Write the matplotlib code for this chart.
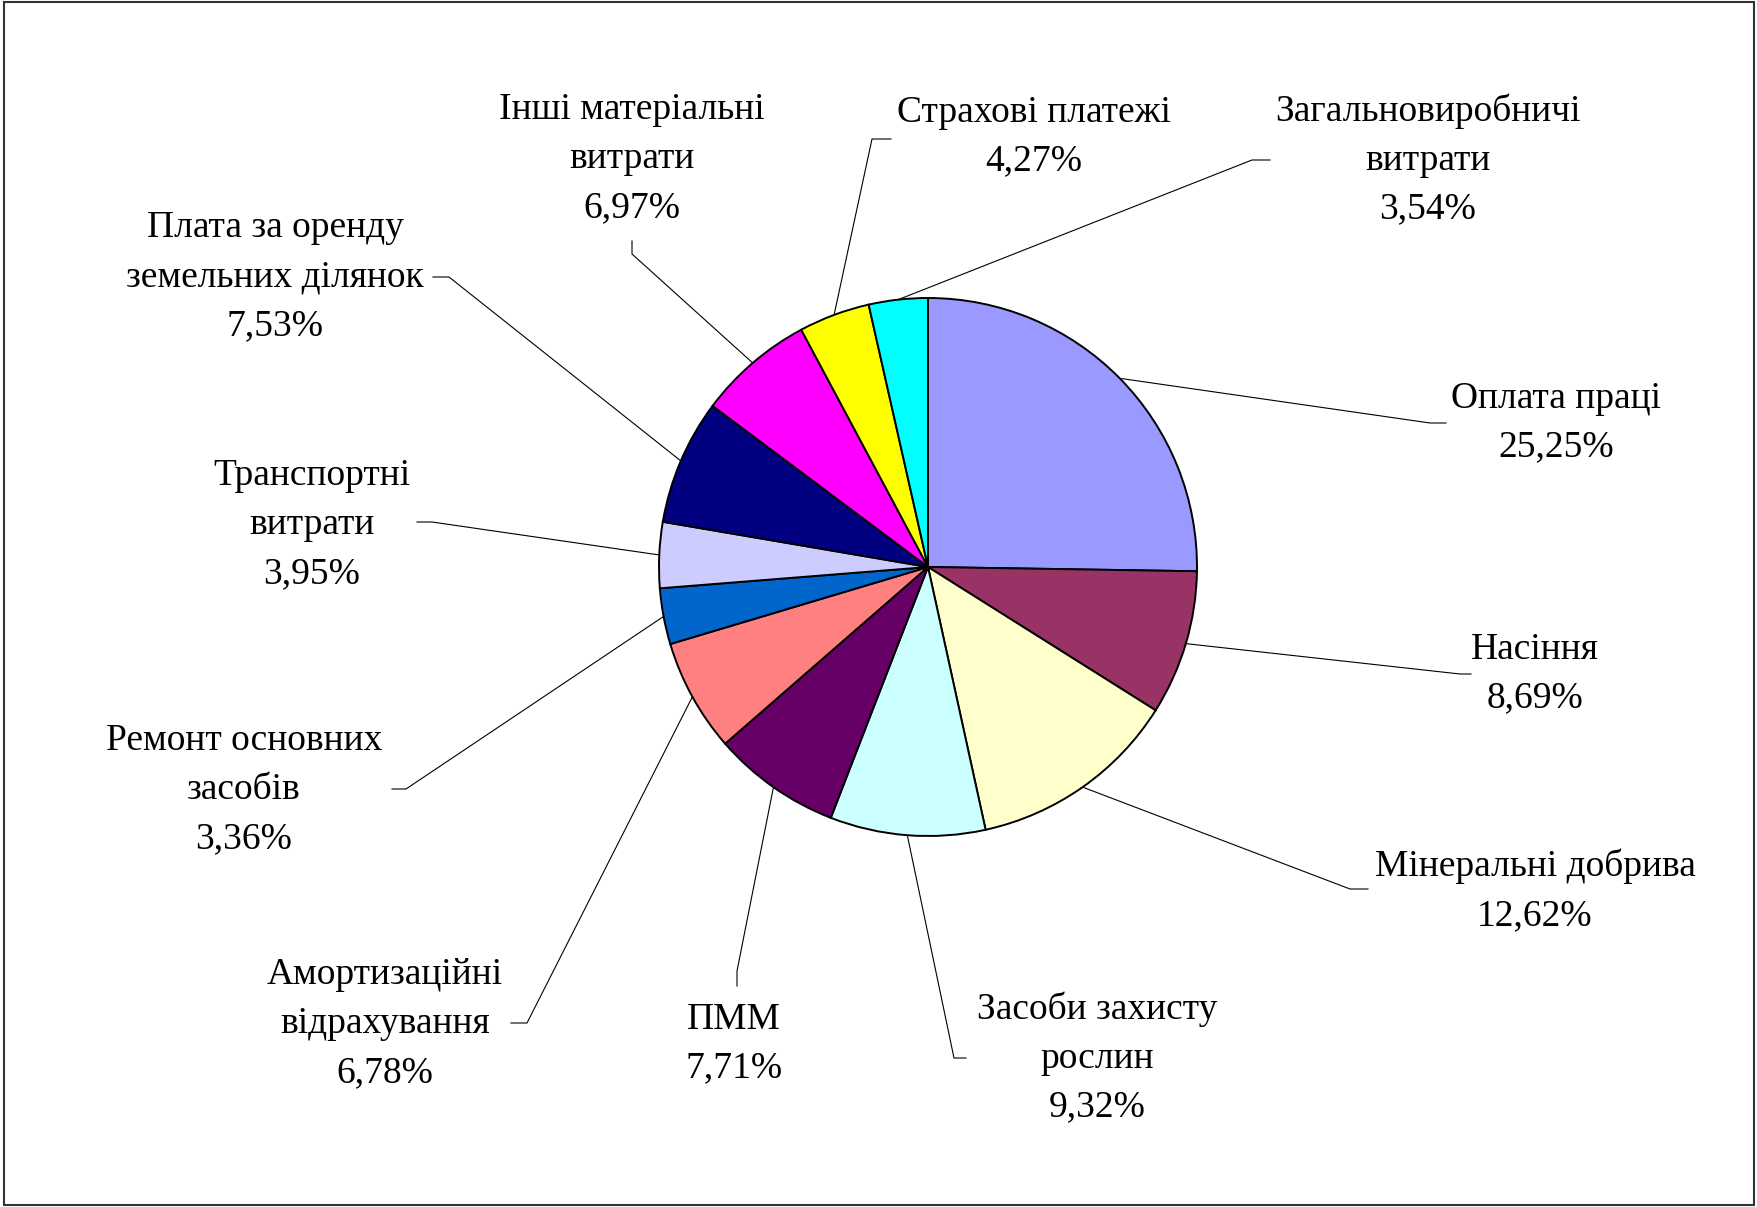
import matplotlib
matplotlib.use("Agg")
import matplotlib.pyplot as plt
from matplotlib.patches import Rectangle
import numpy as np

# ---- data ----
categories = [
    "Оплата праці",
    "Насіння",
    "Мінеральні добрива",
    "Засоби захисту\nрослин",
    "ПММ",
    "Амортизаційні\nвідрахування",
    "Ремонт основних\nзасобів",
    "Транспортні\nвитрати",
    "Плата за оренду\nземельних ділянок",
    "Інші матеріальні\nвитрати",
    "Страхові платежі",
    "Загальновиробничі\nвитрати",
]
values = [25.25, 8.69, 12.62, 9.32, 7.71, 6.78, 3.36, 3.95, 7.53, 6.97, 4.27, 3.54]

colors = ["#9999FF", "#993366", "#FFFFCC", "#CCFFFF", "#660066", "#FF8080",
          "#0066CC", "#CCCCFF", "#000080", "#FF00FF", "#FFFF00", "#00FFFF"]

# ---- layout (pixel coords, y downward) ----
W, H = 1758, 1207
center_px = (928, 567)
radius_px = 269
# text block centre
text_pos = [(1556, 423), (1535, 674), (1535, 891), (1097, 1058), (734, 1044),
            (385, 1024), (244, 790), (312, 525), (275, 277), (632, 159),
            (1034, 137), (1428, 160)]
# leader elbow and end points
elbow_pos = [(1430, 423), (1460, 674), (1350, 889), (954, 1058), (737, 971),
             (527, 1023), (406, 789), (432, 522), (449, 277), (632, 254),
             (872, 139), (1252, 160)]
end_pos = [(1446, 423), (1471, 674), (1368, 889), (966, 1058), (737, 986),
           (511, 1023), (392, 789), (417, 522), (433, 277), (632, 241),
           (891, 139), (1270, 160)]

plt.rcParams['font.family'] = ['Liberation Serif', 'DejaVu Serif']

fig = plt.figure(figsize=(W / 100, H / 100), dpi=100)
ax = fig.add_axes([0, 0, 1, 1])

cx, cy = center_px[0], H - center_px[1]
wedges, _ = ax.pie(values, colors=colors, startangle=90, counterclock=False,
                   center=(cx, cy), radius=radius_px,
                   wedgeprops=dict(edgecolor='black', linewidth=1.4))

ax.set_xlim(0, W)
ax.set_ylim(0, H)
ax.set_aspect('equal')
ax.axis('off')

for i, w in enumerate(wedges):
    mid = np.deg2rad((w.theta1 + w.theta2) / 2)
    ax_pt = (cx + radius_px * np.cos(mid), cy + radius_px * np.sin(mid))
    ex, ey = elbow_pos[i]
    nx, ny = end_pos[i]
    ax.plot([ax_pt[0], ex, nx], [ax_pt[1], H - ey, H - ny],
            color='black', linewidth=0.8, zorder=0.5)
    label = f"{categories[i]}\n{values[i]:.2f}".replace('.', ',') + "%"
    tx, ty = text_pos[i]
    ax.text(tx, H - ty, label, ha='center', va='center', multialignment='center',
            fontsize=27, linespacing=1.54, color='black')

fig.patches.append(Rectangle((0.002, 0.002), 0.996, 0.996, transform=fig.transFigure,
                             fill=False, edgecolor='#333333', linewidth=1.5))

fig.savefig("out.png", dpi=100, facecolor='white')
